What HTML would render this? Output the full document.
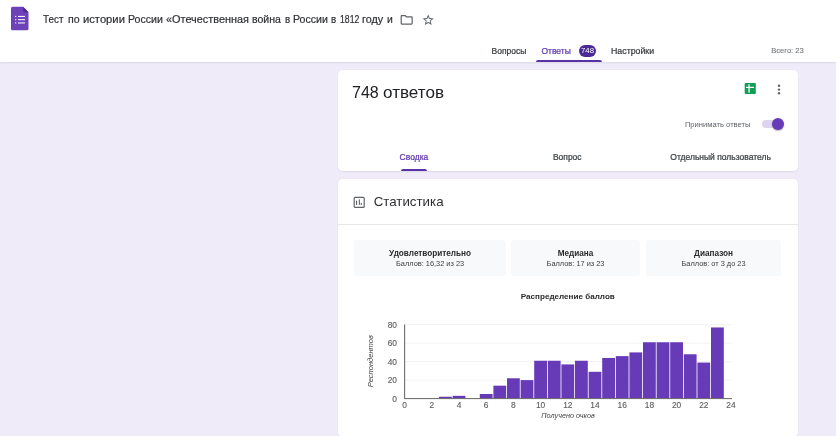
<!DOCTYPE html>
<html><head><meta charset="utf-8">
<style>
html,body{margin:0;padding:0;}
body{width:836px;height:436px;overflow:hidden;position:relative;will-change:transform;background:#efebf8;font-family:"Liberation Sans",sans-serif;}
.a{position:absolute;white-space:nowrap;line-height:1;}
.m{-webkit-text-stroke:0.24px currentColor;}
#hdr{position:absolute;left:0;top:0;width:836px;height:61.6px;background:#fff;box-shadow:0 1px 1.6px rgba(50,40,90,.10);}
.card{position:absolute;background:#fff;border-radius:4.5px;box-shadow:0 0.5px 1.5px rgba(60,64,67,.10);}
.box{position:absolute;top:239.5px;height:36px;background:#f8f9fa;border-radius:3px;}
.bt{position:absolute;left:0;right:0;text-align:center;white-space:nowrap;line-height:1;}
</style></head><body>
<div id="hdr">
  <svg style="position:absolute;left:0;top:0" width="60" height="40">
    <path d="M12.6 6.8 H23.1 L28.5 12.2 V28.7 a1.6 1.6 0 0 1 -1.6 1.6 H12.6 a1.6 1.6 0 0 1 -1.6 -1.6 V8.4 a1.6 1.6 0 0 1 1.6 -1.6 Z" fill="#6d42b8"/>
    <path d="M23.1 6.8 L28.5 12.2 H24.2 a1.1 1.1 0 0 1 -1.1 -1.1 Z" fill="#4a2a98"/>
    <rect x="15" y="15.9" width="1.3" height="1.1" fill="#fff" opacity=".92"/>
    <rect x="15" y="19.1" width="1.3" height="1.1" fill="#fff" opacity=".92"/>
    <rect x="15" y="22.4" width="1.3" height="1.1" fill="#fff" opacity=".92"/>
    <rect x="18" y="15.9" width="7" height="1.1" fill="#fff" opacity=".92"/>
    <rect x="18" y="19.1" width="7" height="1.1" fill="#fff" opacity=".92"/>
    <rect x="18" y="22.4" width="7" height="1.1" fill="#fff" opacity=".92"/>
  </svg>
  <div style="position:absolute;left:0;top:14.0px;font-size:10.9px;color:#2f3033;line-height:1;white-space:nowrap;-webkit-text-stroke:0.2px #2f3033;"><span style="position:absolute;left:43.0px;top:0;transform:scaleX(0.91);transform-origin:0 0">Тест</span><span style="position:absolute;left:67.5px;top:0;transform:scaleX(0.975);transform-origin:0 0">по</span><span style="position:absolute;left:82.7px;top:0;transform:scaleX(1.03);transform-origin:0 0">истории</span><span style="position:absolute;left:128.1px;top:0;transform:scaleX(0.972);transform-origin:0 0">России</span><span style="position:absolute;left:166.0px;top:0;transform:scaleX(1.0);transform-origin:0 0">«Отечественная</span><span style="position:absolute;left:252.4px;top:0;transform:scaleX(0.967);transform-origin:0 0">война</span><span style="position:absolute;left:284.5px;top:0;transform:scaleX(0.9);transform-origin:0 0">в</span><span style="position:absolute;left:293.0px;top:0;transform:scaleX(0.972);transform-origin:0 0">России</span><span style="position:absolute;left:331.4px;top:0;transform:scaleX(0.9);transform-origin:0 0">в</span><span style="position:absolute;left:339.5px;top:0;transform:scaleX(0.8);transform-origin:0 0">1812</span><span style="position:absolute;left:361.9px;top:0;transform:scaleX(0.99);transform-origin:0 0">году</span><span style="position:absolute;left:386.8px;top:0;transform:scaleX(0.95);transform-origin:0 0">и</span></div>
  <svg style="position:absolute;left:0;top:0" width="450" height="32">
    <g transform="translate(399.4 12.57) scale(0.6075)" fill="#5f6368"><path d="M9.17 6l2 2H20v10H4V6h5.17M10 4H4c-1.1 0-1.99.9-1.99 2L2 18c0 1.1.9 2 2 2h16c1.1 0 2-.9 2-2V8c0-1.1-.9-2-2-2h-8l-2-2z"/></g>
    <g transform="translate(421.6 13.35) scale(0.5525)" fill="#5f6368"><path d="M22 9.24l-7.19-.62L12 2 9.19 8.63 2 9.24l5.46 4.730L5.82 21 12 17.27 18.18 21l-1.63-7.03L22 9.24zM12 15.4l-3.76 2.27 1-4.28-3.32-2.88 4.38-.38L12 6.1l1.710 4.04 4.38.38-3.32 2.88 1 4.28L12 15.4z"/></g>
  </svg>
  <div class="a m" style="left:491.5px;top:46.5px;font-size:8.5px;color:#3c4043;">Вопросы</div>
  <div class="a m" style="left:541.4px;top:46.5px;font-size:8.5px;color:#6038ae;">Ответы</div>
  <div style="position:absolute;left:579px;top:44.8px;width:17px;height:11.8px;border-radius:6px;background:#4b2a96;"></div>
  <div class="a" style="left:579px;width:17px;text-align:center;top:46.8px;font-size:7.8px;color:#fff;">748</div>
  <div class="a m" style="left:611px;top:46.5px;font-size:8.8px;color:#3c4043;">Настройки</div>
  <div style="position:absolute;left:536px;top:59.8px;width:66.4px;height:2.2px;background:#5a32a8;border-radius:2px 2px 0 0;"></div>
  <div class="a" style="left:771.2px;top:47.1px;font-size:7.6px;color:#72767a;-webkit-text-stroke:0.1px #72767a;">Всего: 23</div>
</div>

<div class="card" style="left:337.5px;top:69.7px;width:460.3px;height:101.5px;"></div>
<div class="a" style="left:0;top:84.1px;font-size:16.3px;color:#202124;"><span style="position:absolute;left:351.6px;transform:scaleX(0.985);transform-origin:0 0">748</span><span style="position:absolute;left:382.8px;transform:scaleX(1.05);transform-origin:0 0">ответов</span></div>
<svg style="position:absolute;left:740px;top:78px" width="50" height="22">
  <rect x="4.7" y="5" width="11.1" height="11" rx="1" fill="#0f9d58"/>
  <rect x="6" y="8.8" width="8" height="1.2" fill="#fff"/>
  <rect x="8.4" y="6.3" width="1.3" height="8.3" fill="#fff"/>
  <circle cx="39" cy="7.8" r="1.2" fill="#5f6368"/>
  <circle cx="39" cy="11.6" r="1.2" fill="#5f6368"/>
  <circle cx="39" cy="15.3" r="1.2" fill="#5f6368"/>
</svg>
<div class="a" style="left:684.9px;top:120.8px;font-size:7.6px;color:#5f6368;">Принимать ответы</div>
<div style="position:absolute;left:761.7px;top:120.1px;width:18px;height:8.3px;border-radius:4.15px;background:#ddd4ef;"></div>
<div style="position:absolute;left:771.8px;top:118.4px;width:12px;height:12px;border-radius:50%;background:#673ab7;box-shadow:0 1px 1.5px rgba(0,0,0,.3);"></div>
<div class="a m" style="left:399.6px;top:153.3px;font-size:8.5px;color:#6038ae;">Сводка</div>
<div style="position:absolute;left:400.8px;top:169px;width:26.4px;height:2.2px;background:#5a32a8;border-radius:2px 2px 0 0;"></div>
<div class="a m" style="left:552.9px;top:153.3px;font-size:8.5px;color:#3c4043;">Вопрос</div>
<div class="a m" style="left:670.3px;top:153.3px;font-size:8.5px;color:#3c4043;">Отдельный пользователь</div>

<div class="card" style="left:337.5px;top:179.3px;width:460.3px;height:257.5px;"></div>
<svg style="position:absolute;left:350px;top:193px" width="20" height="20">
  <rect x="4.2" y="4.4" width="10" height="10" rx="1" fill="none" stroke="#5f6368" stroke-width="1.2"/>
  <rect x="6" y="7.7" width="1.1" height="4.2" fill="#5f6368"/>
  <rect x="8.8" y="6.4" width="1.1" height="5.5" fill="#5f6368"/>
  <rect x="10.7" y="9.9" width="1.1" height="2" fill="#5f6368"/>
</svg>
<div class="a" style="left:373.7px;top:195.3px;font-size:13.3px;color:#2e2f32;">Статистика</div>
<div style="position:absolute;left:337.5px;top:224.1px;width:460.3px;height:1.4px;background:#e8e8e8;"></div>

<div class="box" style="left:354.4px;width:151.4px;">
  <div class="bt" style="top:10.6px;font-size:8.2px;font-weight:bold;color:#2a2b2e;">Удовлетворительно</div>
  <div class="bt" style="top:20.2px;font-size:7.4px;color:#3c4043;">Баллов: 16,32 из 23</div>
</div>
<div class="box" style="left:511.2px;width:128.7px;">
  <div class="bt" style="top:10.6px;font-size:8.2px;font-weight:bold;color:#2a2b2e;">Медиана</div>
  <div class="bt" style="top:20.2px;font-size:7.4px;color:#3c4043;">Баллов: 17 из 23</div>
</div>
<div class="box" style="left:645.6px;width:135.9px;">
  <div class="bt" style="top:10.6px;font-size:8.2px;font-weight:bold;color:#2a2b2e;">Диапазон</div>
  <div class="bt" style="top:20.2px;font-size:7.4px;color:#3c4043;">Баллов: от 3 до 23</div>
</div>

<div class="a" style="left:520.8px;top:292.8px;font-size:8.1px;font-weight:bold;color:#2a2a2a;">Распределение баллов</div>

<svg style="position:absolute;left:0;top:0" width="836" height="436" font-family="Liberation Sans" font-size="8.4" fill="#5c5c5c">
<rect x="404.6" y="379.62" width="327.3" height="1" fill="#f2f2f2"/>
<rect x="404.6" y="361.15" width="327.3" height="1" fill="#f2f2f2"/>
<rect x="404.6" y="342.68" width="327.3" height="1" fill="#f2f2f2"/>
<rect x="404.6" y="324.20" width="327.3" height="1" fill="#f2f2f2"/>
<rect x="439.00" y="396.75" width="12.8" height="1.85" fill="#673ab7"/>
<rect x="452.60" y="395.83" width="12.8" height="2.77" fill="#673ab7"/>
<rect x="479.80" y="393.98" width="12.8" height="4.62" fill="#673ab7"/>
<rect x="493.40" y="385.67" width="12.8" height="12.93" fill="#673ab7"/>
<rect x="507.00" y="378.28" width="12.8" height="20.32" fill="#673ab7"/>
<rect x="520.60" y="380.12" width="12.8" height="18.48" fill="#673ab7"/>
<rect x="534.20" y="360.73" width="12.8" height="37.87" fill="#673ab7"/>
<rect x="547.80" y="360.73" width="12.8" height="37.87" fill="#673ab7"/>
<rect x="561.40" y="364.42" width="12.8" height="34.18" fill="#673ab7"/>
<rect x="575.00" y="360.73" width="12.8" height="37.87" fill="#673ab7"/>
<rect x="588.60" y="371.81" width="12.8" height="26.79" fill="#673ab7"/>
<rect x="602.20" y="357.96" width="12.8" height="40.65" fill="#673ab7"/>
<rect x="615.80" y="356.11" width="12.8" height="42.49" fill="#673ab7"/>
<rect x="629.40" y="352.41" width="12.8" height="46.19" fill="#673ab7"/>
<rect x="643.00" y="342.25" width="12.8" height="56.35" fill="#673ab7"/>
<rect x="656.60" y="342.25" width="12.8" height="56.35" fill="#673ab7"/>
<rect x="670.20" y="342.25" width="12.8" height="56.35" fill="#673ab7"/>
<rect x="683.80" y="354.26" width="12.8" height="44.34" fill="#673ab7"/>
<rect x="697.40" y="362.57" width="12.8" height="36.03" fill="#673ab7"/>
<rect x="711.00" y="327.47" width="12.8" height="71.13" fill="#673ab7"/>
<rect x="404.05" y="324.5" width="1.1" height="74.3" fill="#6e6e6e"/>
<rect x="404.05" y="398.05" width="327.9" height="1.05" fill="#6e6e6e"/>
<g stroke="#5c5c5c" stroke-width="0.12">
<text x="397" y="401.6" text-anchor="end">0</text>
<text x="397" y="383.1" text-anchor="end">20</text>
<text x="397" y="364.7" text-anchor="end">40</text>
<text x="397" y="346.2" text-anchor="end">60</text>
<text x="397" y="327.7" text-anchor="end">80</text>
<text x="404.6" y="408.2" text-anchor="middle">0</text>
<text x="431.8" y="408.2" text-anchor="middle">2</text>
<text x="459.0" y="408.2" text-anchor="middle">4</text>
<text x="486.2" y="408.2" text-anchor="middle">6</text>
<text x="513.4" y="408.2" text-anchor="middle">8</text>
<text x="540.6" y="408.2" text-anchor="middle">10</text>
<text x="567.8" y="408.2" text-anchor="middle">12</text>
<text x="595.0" y="408.2" text-anchor="middle">14</text>
<text x="622.2" y="408.2" text-anchor="middle">16</text>
<text x="649.4" y="408.2" text-anchor="middle">18</text>
<text x="676.6" y="408.2" text-anchor="middle">20</text>
<text x="703.8" y="408.2" text-anchor="middle">22</text>
<text x="731.0" y="408.2" text-anchor="middle">24</text>
</g>
<text x="541.3" y="417.8" font-style="italic" font-size="7.3" fill="#444444">Получено очков</text>
<text transform="translate(372.7 361.2) rotate(-90)" text-anchor="middle" font-style="italic" font-size="7.55" fill="#444444">Респондентов</text>
</svg>
</body></html>
